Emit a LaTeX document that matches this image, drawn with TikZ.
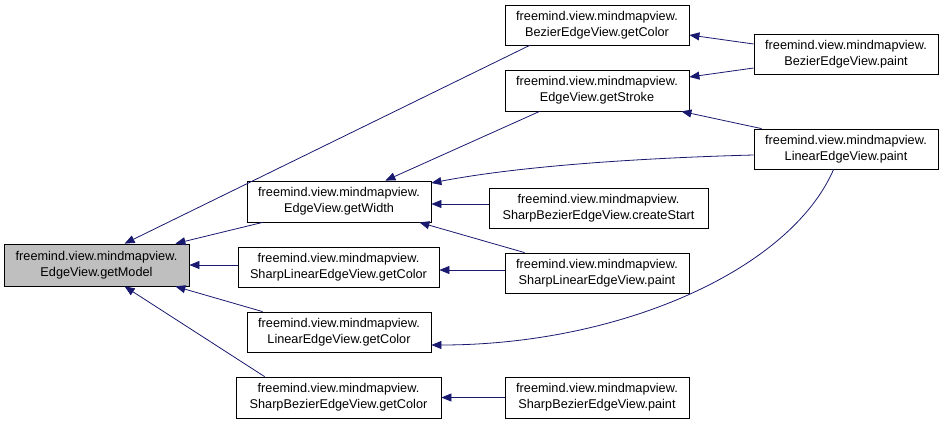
\documentclass[tikz,border=0pt]{standalone}
\usepackage{fontspec}
\setmainfont{Liberation Sans}
\usetikzlibrary{arrows.meta,calc}
\definecolor{edgeblue}{HTML}{191970}
\definecolor{nodegrey}{HTML}{BFBFBF}
\tikzset{
  fn/.style={draw=black, line width=0.8pt, fill=white, align=center, inner sep=0pt,
    font=\fontsize{12.7}{16}\selectfont, minimum height=40pt},
  call/.style={draw=edgeblue, line width=0.8pt, -{Triangle[length=10pt,width=8pt]}},
}
\begin{document}
\begin{tikzpicture}[x=1pt,y=-1pt]
\useasboundingbox (0,0) rectangle (944,423);
% column 1
\node[fn, fill=nodegrey, minimum width=185pt, minimum height=42pt] (A) at (96.5,265) {freemind.view.mindmapview.\\EdgeView.getModel};
% column 2
\node[fn, minimum width=184pt, minimum height=41pt] (B) at (339,201.5) {freemind.view.mindmapview.\\EdgeView.getWidth};
\node[fn, minimum width=201pt] (C) at (338.5,267) {freemind.view.mindmapview.\\SharpLinearEdgeView.getColor};
\node[fn, minimum width=184pt] (D) at (339,332) {freemind.view.mindmapview.\\LinearEdgeView.getColor};
\node[fn, minimum width=205pt, minimum height=41pt] (E) at (338.5,397.5) {freemind.view.mindmapview.\\SharpBezierEdgeView.getColor};
% column 3
\node[fn, minimum width=184pt] (F) at (597,25) {freemind.view.mindmapview.\\BezierEdgeView.getColor};
\node[fn, minimum width=184pt, minimum height=41pt] (G) at (597,90.5) {freemind.view.mindmapview.\\EdgeView.getStroke};
\node[fn, minimum width=219pt] (H) at (598.5,208) {freemind.view.mindmapview.\\SharpBezierEdgeView.createStart};
\node[fn, minimum width=184pt] (I) at (597,273) {freemind.view.mindmapview.\\SharpLinearEdgeView.paint};
\node[fn, minimum width=184pt, minimum height=41pt] (J) at (597,397.5) {freemind.view.mindmapview.\\SharpBezierEdgeView.paint};
% column 4
\node[fn, minimum width=184pt] (K) at (846,54) {freemind.view.mindmapview.\\BezierEdgeView.paint};
\node[fn, minimum width=184pt] (L) at (846,149) {freemind.view.mindmapview.\\LinearEdgeView.paint};
% edges
\draw[call] ([xshift=25pt]F.south west) -- ([xshift=121pt]A.north west);
\draw[call] ([xshift=16pt]B.south west) -- ([xshift=-14pt]A.north east);
\draw[call] (C.west |- A.center) -- (A.east);
\draw[call] ([xshift=16pt]D.north west) -- ([xshift=-14pt]A.south east);
\draw[call] ([xshift=29pt]E.north west) -- ([xshift=121pt]A.south west);
\draw[call] ([xshift=35pt]G.south west) -- ([xshift=-46pt]B.north east);
\draw[call] ([yshift=-6pt]L.west) .. controls (640,158) and (520,166) .. ([yshift=18.5pt]B.east);
\draw[call] (H.west |- B.east) ++(0,2.5) -- ([yshift=-2.5pt]B.east);
\draw[call] ([xshift=20pt]I.north west) -- ([xshift=-12pt]B.south east);
\draw[call] (I.west |- C.east) ++(0,3) -- ([yshift=-3pt]C.east);
\draw[call] ([xshift=80pt]L.south west) .. controls (790,270) and (620,345) .. ([yshift=-13pt]D.east);
\draw[call] (J.west) -- (J.west -| E.east);
\draw[call] ([yshift=10pt]K.west) -- ([yshift=-10pt]F.east);
\draw[call] ([yshift=-14pt]K.west) -- ([yshift=13.5pt]G.east);
\draw[call] ([xshift=8pt]L.north west) -- ([xshift=-8pt]G.south east);
\end{tikzpicture}
\end{document}
